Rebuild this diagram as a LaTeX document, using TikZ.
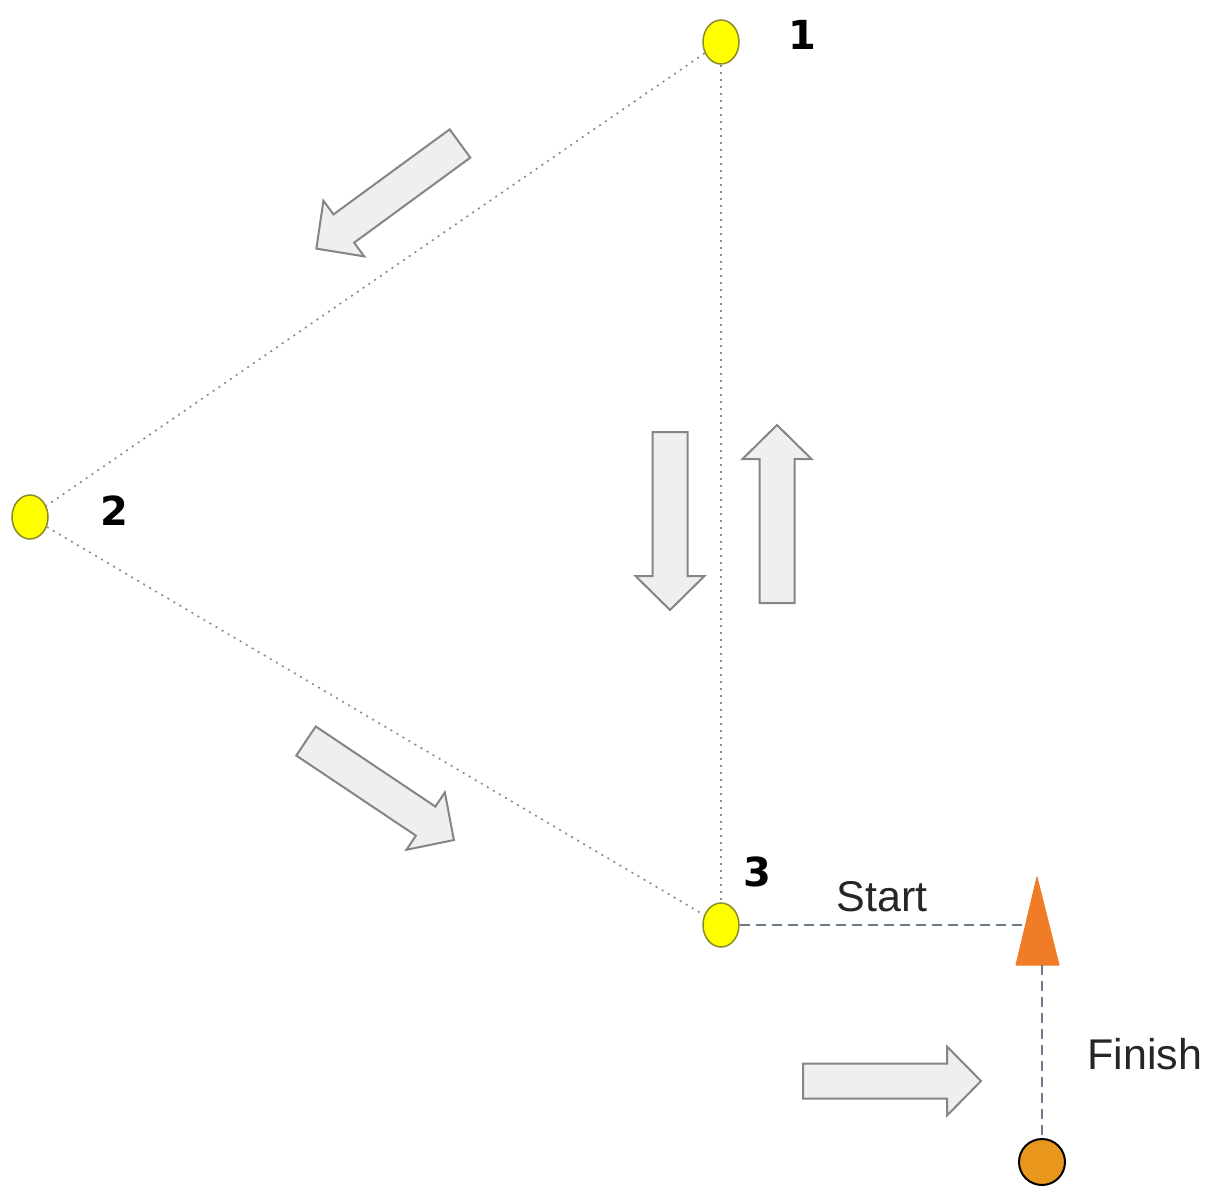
\documentclass[tikz,border=0pt]{standalone}
\usepackage{fontspec}
\setmainfont{Liberation Sans}
\newfontfamily\digitfont{DejaVu Sans}
\usetikzlibrary{shapes.geometric}
\definecolor{flagyellow}{HTML}{FFFF00}
\definecolor{flagedge}{HTML}{8C8C2A}
\definecolor{coneorange}{HTML}{F07C28}
\definecolor{finishorange}{HTML}{E8961C}
\definecolor{arrowfill}{HTML}{EFEFEF}
\definecolor{arrowedge}{HTML}{858585}
\definecolor{dashcol}{HTML}{6E7C8A}
\definecolor{dotcol}{HTML}{8A8A8A}
\tikzset{
  flag/.style={ellipse, draw=flagedge, fill=flagyellow, line width=1.5pt,
    minimum width=36pt, minimum height=44pt, inner sep=0pt},
  numlabel/.style={font=\digitfont\bfseries\fontsize{40}{44}\selectfont, text=black, inner sep=0pt},
  wordlabel/.style={font=\fontsize{43}{48}\selectfont, text=black!85, inner sep=0pt},
  dotline/.style={draw=dotcol, line width=1.6pt, dash pattern=on 2pt off 5pt},
  dashline/.style={draw=dashcol, line width=2.6pt, dash pattern=on 10pt off 6pt},
  finishdot/.style={circle, draw=black, fill=finishorange, line width=2pt,
    minimum size=46pt, inner sep=0pt},
  bigarrow/.pic={
    \draw[fill=arrowfill, draw=arrowedge, line width=2pt, line join=miter]
      (0,-17.5) -- (144,-17.5) -- (144,-34.5) -- (178,0) -- (144,34.5)
      -- (144,17.5) -- (0,17.5) -- cycle;
  }
}
\begin{document}
\begin{tikzpicture}[x=1pt,y=-1pt]
\useasboundingbox (0,0) rectangle (1210,1186);

% course flags
\node[flag] (n1) at (721,42) {};
\node[flag] (n2) at (30,517) {};
\node[flag] (n3) at (721,925) {};

% finish marker
\node[finishdot] (fin) at (1042,1162) {};

% cone
\coordinate (conetop) at (1037,877);
\coordinate (coneleft) at (1026,925);
\coordinate (conebase) at (1042,965);
\fill[coneorange, draw=coneorange, line width=1pt, line join=round]
  (conetop) -- (1059,965) -- (1016,965) -- cycle;

% dotted course
\draw[dotline] (n1) -- (n2);
\draw[dotline] (n2) -- (n3);
\draw[dotline] (n1) -- (n3);

% dashed start / finish lines
\draw[dashline] (n3) -- (coneleft);
\draw[dashline] (conebase) -- (fin);

% labels
\node[numlabel] (l1) at (802,35) {1};
\node[numlabel] (l2) at (114,511) {2};
\node[numlabel] (l3) at (757,872) {3};
\node[wordlabel] (ls) at (882,897) {Start};
\node[wordlabel] (lf) at (1145,1054) {Finish};

% direction arrows
\pic[rotate=-143.8] at (460,143.5) {bigarrow};
\pic[rotate=-33.8] at (306,741) {bigarrow};
\pic[rotate=-90] at (670,432) {bigarrow};
\pic[rotate=90] at (777,603) {bigarrow};
\pic at (803,1081) {bigarrow};
\end{tikzpicture}
\end{document}
